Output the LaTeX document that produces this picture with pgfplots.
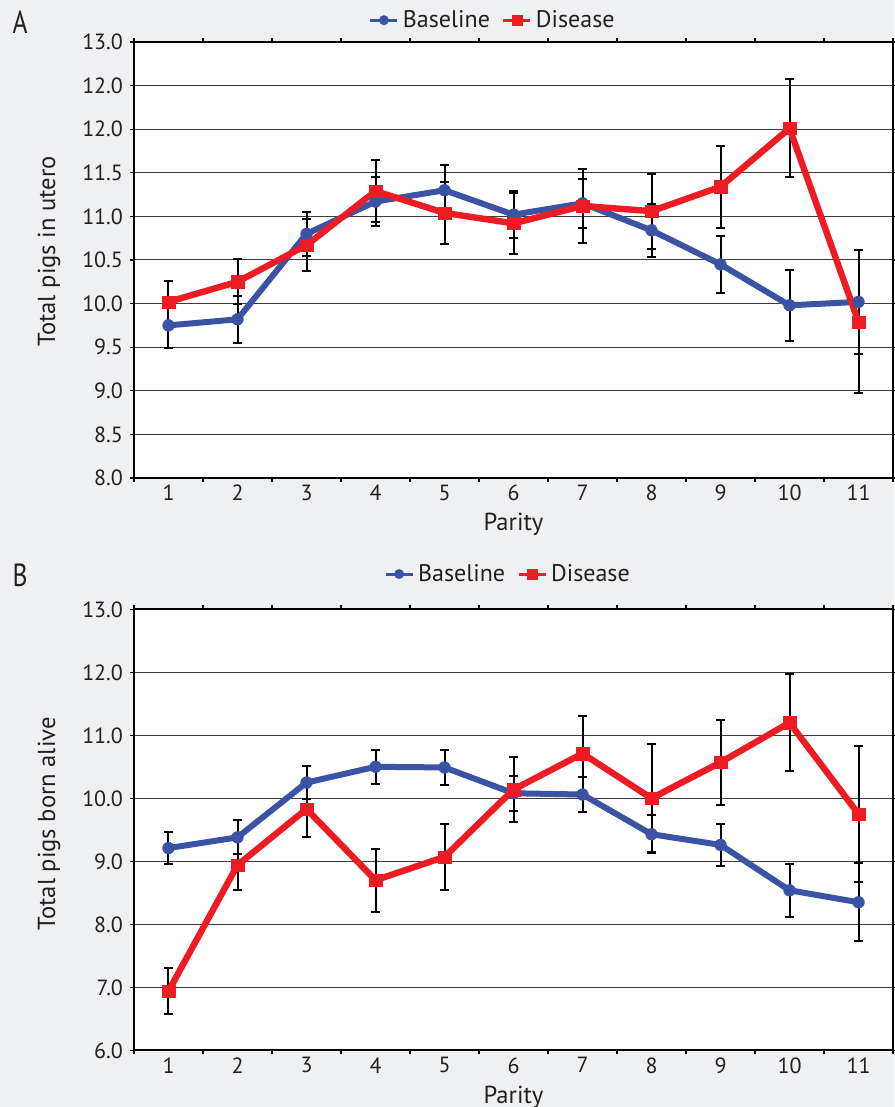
\documentclass[border=0pt]{standalone}
\usepackage{fontspec}
\setmainfont{PT Sans}
\usepackage{pgfplots}
\usepackage{pgfplotstable}
\pgfplotsset{compat=1.18}
\definecolor{bg}{HTML}{EFF0F2}
\definecolor{myblue}{HTML}{3A53A4}
\definecolor{myred}{HTML}{ED1C24}
\definecolor{gridc}{HTML}{3C3C3C}
\definecolor{txt}{HTML}{231F20}

\pgfplotstableread{
x b be d de
1 9.75 0.26 10.02 0.24
2 9.82 0.27 10.25 0.26
3 10.80 0.25 10.67 0.30
4 11.17 0.28 11.29 0.36
5 11.30 0.29 11.04 0.36
6 11.02 0.27 10.92 0.35
7 11.15 0.28 11.12 0.42
8 10.84 0.30 11.06 0.43
9 10.45 0.33 11.34 0.47
10 9.98 0.41 12.01 0.56
11 10.02 0.60 9.79 0.82
}\dataA

\pgfplotstableread{
x b be d de
1 9.21 0.26 6.94 0.37
2 9.38 0.27 8.94 0.40
3 10.25 0.26 9.83 0.45
4 10.50 0.27 8.70 0.50
5 10.49 0.28 9.07 0.52
6 10.08 0.28 10.14 0.52
7 10.06 0.28 10.71 0.60
8 9.43 0.30 10.00 0.86
9 9.26 0.33 10.57 0.67
10 8.54 0.42 11.20 0.77
11 8.35 0.62 9.75 1.08
}\dataB

\pgfplotsset{
 panel/.style={
  scale only axis, width=379.5pt, xmin=0.5, xmax=11.5,
  axis background/.style={fill=white},
  axis line style={black, line width=1pt},
  xtick={0.5,1.5,...,11.5}, xticklabels={,,,,,,,,,,,},
  extra x ticks={1,2,3,4,5,6,7,8,9,10,11},
  extra x tick labels={1,2,3,4,5,6,7,8,9,10,11},
  extra x tick style={major tick length=0pt, grid=none},
  major tick length=2pt, tick align=outside,
  ymajorgrids, grid style={gridc, line width=0.5pt},
  tick style={black, line width=0.6pt},
  ticklabel style={font=\fontsize{11}{13}\selectfont, text=txt},
  /pgf/number format/assume math mode=true,
  label style={font=\fontsize{12.3}{14}\selectfont, text=txt},
  xlabel=Parity,
  xlabel style={at={(axis description cs:0.5,-0.12)}, anchor=base},
  legend columns=2,
  legend style={draw=none, fill=none, font=\fontsize{12}{14}\selectfont, text=txt,
    /tikz/every even column/.append style={column sep=4pt},
    /tikz/every odd column/.append style={column sep=0pt}},
  legend image code/.code={\draw[mark repeat=2,mark phase=2,##1,line width=1.5pt,mark size=2.4pt] plot coordinates {(0pt,0pt) (6.75pt,0pt) (13.5pt,0pt)};},
 },
 ebar/.style={forget plot, only marks, mark=none,
  error bars/.cd, y dir=both, y explicit,
  error bar style={black, line width=1pt},
  error mark options={black, line width=1pt, mark size=2.2pt, rotate=90}},
 bline/.style={myblue, line width=3pt, mark=*, mark size=3pt, mark options={fill=myblue, draw=myblue, line width=0.1pt}},
 rline/.style={myred, line width=3.2pt, mark=square*, mark size=3.1pt, mark options={fill=myred, draw=myred, line width=0.1pt}},
}

\begin{document}
\begin{tikzpicture}
\fill[bg] (0,0) rectangle (447pt,553.5pt);
\path[use as bounding box] (0,0) rectangle (447pt,553.5pt);

\node[font=\fontsize{16}{18}\selectfont, text=txt, xscale=0.8] at (10pt,542.5pt) {A};
\node[font=\fontsize{16}{18}\selectfont, text=txt, xscale=0.8] at (10pt,266pt) {B};

\begin{axis}[panel, at={(67pt,314.5pt)}, anchor=south west, height=218pt,
  ymin=8, ymax=13, ytick={8,8.5,...,13},
  yticklabels={8.0,8.5,9.0,9.5,10.0,10.5,11.0,11.5,12.0,12.0,13.0},
  ylabel={Total pigs in utero},
  ylabel style={at={(axis description cs:-0.104,0.52)}, anchor=base},
  legend style={at={(axis description cs:0.474,1.05)}, anchor=center}]
\addplot[ebar] table[x=x, y=b, y error=be] {\dataA};
\addplot[ebar] table[x=x, y=d, y error=de] {\dataA};
\addplot[bline] table[x=x, y=b] {\dataA};
\addlegendentry{Baseline}
\addplot[rline] table[x=x, y=d] {\dataA};
\addlegendentry{Disease}
\end{axis}

\begin{axis}[panel, at={(67pt,28.35pt)}, anchor=south west, height=220.5pt,
  ymin=6, ymax=13, ytick={6,7,...,13},
  yticklabel style={/pgf/number format/.cd, fixed, fixed zerofill, precision=1},
  ylabel={Total pigs born alive},
  ylabel style={at={(axis description cs:-0.104,0.514)}, anchor=base},
  legend style={at={(axis description cs:0.494,1.08)}, anchor=center}]
\addplot[ebar] table[x=x, y=b, y error=be] {\dataB};
\addplot[ebar] table[x=x, y=d, y error=de] {\dataB};
\addplot[bline] table[x=x, y=b] {\dataB};
\addlegendentry{Baseline}
\addplot[rline] table[x=x, y=d] {\dataB};
\addlegendentry{Disease}
\end{axis}
\end{tikzpicture}
\end{document}
